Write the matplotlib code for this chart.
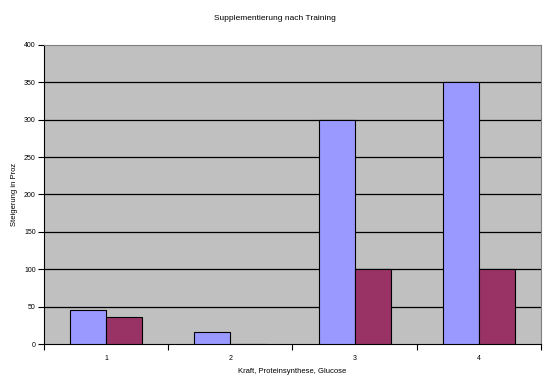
import matplotlib.pyplot as plt
import numpy as np

categories = ["1", "2", "3", "4"]
series_blue = [46, 16, 300, 350]
series_red = [36, 0, 100, 100]
y_ticks = [0, 50, 100, 150, 200, 250, 300, 350, 400]

plt.rcParams["font.family"] = ["Liberation Sans", "DejaVu Sans"]

fig = plt.figure(figsize=(5.53, 3.87), dpi=100)
ax = fig.add_axes([0.0796, 0.111, 0.8984, 0.773])
ax.set_facecolor("#C0C0C0")

x = np.arange(len(categories))
w = 0.29
ax.bar(x - w / 2, series_blue, width=w, color="#9999FF", edgecolor="black", linewidth=0.8, zorder=3)
ax.bar(x + w / 2, series_red, width=w, color="#993366", edgecolor="black", linewidth=0.8, zorder=3)

ax.set_xlim(-0.5, len(categories) - 0.5)
ax.set_ylim(0, 400)
ax.set_yticks(y_ticks)
ax.set_yticklabels([str(v) for v in y_ticks], fontsize=5)
for v in y_ticks[1:-1]:
    ax.axhline(v, color="black", linewidth=0.9, zorder=1)

# category labels centered, tick marks between groups
ax.set_xticks(np.arange(-0.5, len(categories), 1.0))
ax.set_xticklabels([])
ax.set_xticks(x, minor=True)
ax.set_xticklabels(categories, minor=True, fontsize=5)
ax.tick_params(axis="x", which="minor", length=0, pad=8)
ax.tick_params(axis="x", which="major", length=4, direction="out", width=0.8)
ax.tick_params(axis="y", length=4, direction="out", width=0.8, pad=2)

for s in ["top", "right"]:
    ax.spines[s].set_color("#808080")
    ax.spines[s].set_linewidth(0.8)
ax.spines["left"].set_color("black")
ax.spines["bottom"].set_color("black")

ax.set_xlabel("Kraft, Proteinsynthese, Glucose", fontsize=5.5, labelpad=4)
ax.set_ylabel("Steigerung in Proz", fontsize=5.5, labelpad=4)
fig.text(0.497, 0.953, "Supplementierung nach Training", fontsize=6, ha="center", va="center")

fig.savefig("out.png", dpi=100)
